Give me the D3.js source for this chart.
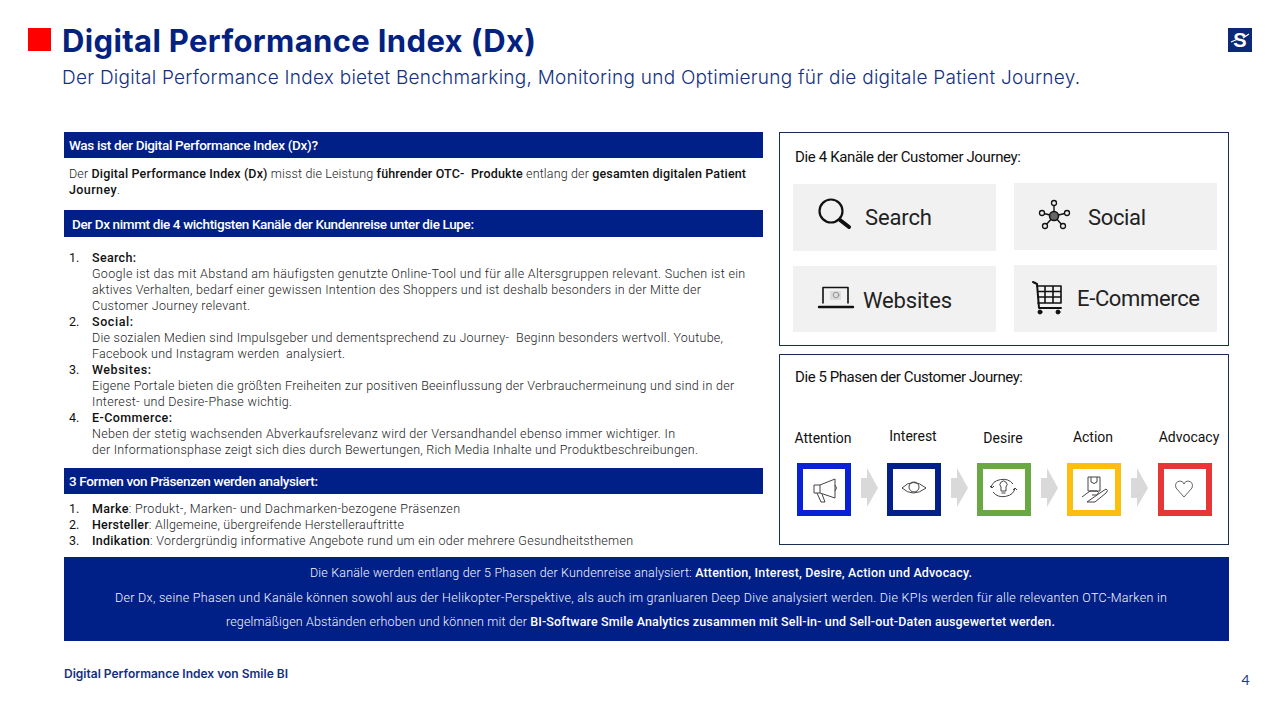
<!DOCTYPE html>
<html lang="de"><head><meta charset="utf-8"><title>Digital Performance Index (Dx)</title>
<script src="https://cdn.jsdelivr.net/npm/d3@7/dist/d3.min.js"></script>
<style>html,body{margin:0;padding:0;background:#fff;overflow:hidden}svg{display:block}</style></head>
<body><svg id="s" width="1280" height="720" viewBox="0 0 1280 720"></svg>
<script>
// ---- content ----
const titleText = "Digital Performance Index (Dx)";
const subtitleText = "Der Digital Performance Index bietet Benchmarking, Monitoring und Optimierung für die digitale Patient Journey.";
const headerLabels = ["Was ist der Digital Performance Index (Dx)?","Der Dx nimmt die 4 wichtigsten Kanäle der Kundenreise unter die Lupe:","3 Formen von Präsenzen werden analysiert:"];
const introLines = ["Der **Digital Performance Index (Dx)** misst die Leistung **führender OTC-  Produkte** entlang der **gesamten digitalen Patient**","**Journey**."];
const channelBody = ["**Search:**",
"Google ist das mit Abstand am häufigsten genutzte Online-Tool und für alle Altersgruppen relevant. Suchen ist ein",
"aktives Verhalten, bedarf einer gewissen Intention des Shoppers und ist deshalb besonders in der Mitte der",
"Customer Journey relevant.",
"**Social:**",
"Die sozialen Medien sind Impulsgeber und dementsprechend zu Journey-  Beginn besonders wertvoll. Youtube,",
"Facebook und Instagram werden  analysiert.",
"**Websites:**",
"Eigene Portale bieten die größten Freiheiten zur positiven Beeinflussung der Verbrauchermeinung und sind in der",
"Interest- und Desire-Phase wichtig.",
"**E-Commerce:**",
"Neben der stetig wachsenden Abverkaufsrelevanz wird der Versandhandel ebenso immer wichtiger. In",
"der Informationsphase zeigt sich dies durch Bewertungen, Rich Media Inhalte und Produktbeschreibungen."];
const channelNumbers = ["1.","","","","2.","","","3.","","","4.","",""];
const formLines = ["**Marke**: Produkt-, Marken- und Dachmarken-bezogene Präsenzen","**Hersteller**: Allgemeine, übergreifende Herstellerauftritte","**Indikation**: Vordergründig informative Angebote rund um ein oder mehrere Gesundheitsthemen"];
const formNumbers = ["1.","2.","3."];
const panelLines = ["Die Kanäle werden entlang der 5 Phasen der Kundenreise analysiert: **Attention, Interest, Desire, Action und Advocacy.**",
"Der Dx, seine Phasen und Kanäle können sowohl aus der Helikopter-Perspektive, als auch im granluaren Deep Dive analysiert werden. Die KPIs werden für alle relevanten OTC-Marken in",
"regelmäßigen Abständen erhoben und können mit der **BI-Software Smile Analytics zusammen mit Sell-in- und Sell-out-Daten ausgewertet werden.**"];
const footerText = "Digital Performance Index von Smile BI";
const pageNumber = "4";
const channelTitle = "Die 4 Kanäle der Customer Journey:";
const channels = ["Search","Social","Websites","E-Commerce"];
const phaseTitle = "Die 5 Phasen der Customer Journey:";
const phases = ["Attention","Interest","Desire","Action","Advocacy"];
const phaseColors = ["#0a22d6","#02208a","#6aa843","#fdbf0f","#e63636"];

// ---- layout (separate from content) ----
const NAVY="#001f87", INK="#2a2a2a";
const svg=d3.select("#s");
const g=svg.append("g");
function rect(x0,y0,x1,y1,fill,stroke){return g.append("rect").attr("x",x0).attr("y",y0).attr("width",x1-x0).attr("height",y1-y0).attr("fill",fill).attr("stroke",stroke||"none");}
// text with **bold** runs, fitted to a target extent via letter-spacing
function put(str,x0,x1,cy,o){o=o||{};
  const size=o.size||12.5,fam=o.fam||"Roboto",col=o.col||INK,w=o.w||300,bw=o.bw||500;
  const t=g.append("text").attr("x",x0).attr("y",cy+size*0.35+(size<14?0.6:0)).attr("font-family",fam).attr("font-size",size).attr("fill",col).attr("font-weight",w).attr("xml:space","preserve").style("white-space","pre");
  str.split("**").forEach((r,i)=>{if(r)t.append("tspan").attr("font-weight",i%2?bw:w).attr("fill",i%2&&o.bcol?o.bcol:(i%2?"#111":col)).text(r);});
  if(x1!=null){const len=t.node().getComputedTextLength(),n=str.replace(/\*\*/g,"").length;
    t.style("letter-spacing",((x1-x0-len)/Math.max(1,n-1)).toFixed(3)+"px");}
  return t;
}
// slide head
rect(28,28,51,51,"#fe0000");
put(titleText,62,536,41,{size:31,fam:"Inter",col:"#03227f",w:700,bw:700});
put(subtitleText,62,1080,77,{size:19,fam:"Inter",col:"#12307f",w:300});
// logo
rect(1228,28,1252,52,"#0a2a78");
g.append("text").attr("x",1240).attr("y",47).attr("text-anchor","middle").attr("font-family","Liberation Sans").attr("font-weight",700).attr("font-size",20).attr("fill","#fff").text("S");
g.append("path").attr("d","M1231 42 L1238 39 M1243 38 L1249 34").attr("stroke","#fff").attr("stroke-width",1.2).attr("fill","none");

// left column headers
const headerBoxes=[[132,158],[210,237],[468,494]];
const headerExtents=[[69,318],[72,474],[69,318]];
headerLabels.forEach((l,i)=>{rect(64,headerBoxes[i][0],763,headerBoxes[i][1],NAVY);
  put(l,headerExtents[i][0],headerExtents[i][1],(headerBoxes[i][0]+headerBoxes[i][1])/2,{col:"#fff",w:500,size:13.5});});
// intro
const introEnds=[746,120];
introLines.forEach((l,i)=>put(l,69,introEnds[i],173+16*i,{col:"#222"}));
// channel list
const channelEnds=[136,745,701,250,133,723,345,151,734,292,172,675,698];
channelBody.forEach((l,i)=>{const cy=257+16*i;
  if(channelNumbers[i])put(channelNumbers[i],69,null,cy,{w:400,col:"#111"});
  put(l,92,channelEnds[i],cy,{col:"#222"});});
// forms list
const formEnds=[460,404,633];
formLines.forEach((l,i)=>{const cy=508+16*i;put(formNumbers[i],69,null,cy,{w:400,col:"#111"});put(l,92,formEnds[i],cy,{col:"#222"});});
// bottom panel
rect(64,557,1229,641,NAVY);
const panelExt=[[310,972],[115,1167],[226,1055]],panelY=[572,597,621];
panelLines.forEach((l,i)=>put(l,panelExt[i][0],panelExt[i][1],panelY[i],{col:"#f4f6ff",bcol:"#fff",w:300,bw:500}));
// footer
put(footerText,64,288,673,{size:12,fam:"Inter",col:"#13307f",w:600,bw:600});
g.append("text").attr("x",1245.5).attr("y",685).attr("text-anchor","middle").attr("font-family","Lato").attr("font-size",14).attr("fill","#1b3a8c").text(pageNumber);

// right: channels box
rect(779.5,132.5,1228.5,345.5,"#fff","#1a2f55");
put(channelTitle,795,1021,157,{size:15,w:400,col:"#111"});
const tiles=[[793,184,996,251],[1014,183,1217,250],[793,266,996,332],[1014,265,1217,332]];
const tileText=[[865,932,217],[1088,1146,217],[863,952,300],[1077,1200,298]];
channels.forEach((c,i)=>{const b=tiles[i];rect(b[0],b[1],b[2],b[3],"#f1f1f1");
  put(c,tileText[i][0],tileText[i][1],tileText[i][2],{size:22,w:400,col:"#222"});});
// search icon
const ic=g.append("g").attr("fill","none").attr("stroke","#111").attr("stroke-linecap","round").attr("stroke-linejoin","round");
ic.append("circle").attr("cx",831).attr("cy",211).attr("r",11.5).attr("stroke-width",2.2);
ic.append("path").attr("d","M840 220 L849 227").attr("stroke-width",4);
// social icon
const hub=[1054,216],spokes=[[1054,203],[1042,213],[1067,213],[1045,226],[1063,226]];
ic.append("g").selectAll("line").data(spokes).join("line").attr("x1",hub[0]).attr("y1",hub[1]).attr("x2",d=>d[0]).attr("y2",d=>d[1]).attr("stroke-width",1.4);
ic.append("g").selectAll("circle").data(spokes).join("circle").attr("cx",d=>d[0]).attr("cy",d=>d[1]).attr("r",2.5).attr("fill","#f1f1f1").attr("stroke-width",1.3);
ic.append("circle").attr("cx",hub[0]).attr("cy",hub[1]).attr("r",4.5).attr("fill","#666").attr("stroke-width",1.5);
// laptop icon
ic.append("path").attr("d","M823 303 V287.5 H848 V303").attr("stroke-width",1.6);
ic.append("rect").attr("x",830).attr("y",291).attr("width",11).attr("height",9).attr("stroke","none").attr("fill","#ddd");
ic.append("circle").attr("cx",836).attr("cy",295).attr("r",2.8).attr("stroke-width",.7).attr("stroke","#777");
ic.append("path").attr("d","M819 307 H853").attr("stroke-width",2.4);
// cart icon
ic.append("path").attr("d","M1033 282 L1037 284 L1039 308 H1061").attr("stroke-width",2);
ic.append("path").attr("d","M1037 286 H1061 V303 H1038 M1038 291.5 H1061 M1038 297 H1061 M1045 286 V303 M1053 286 V303").attr("stroke-width",1.6);
ic.append("g").selectAll("circle").data([1040,1058]).join("circle").attr("cx",d=>d).attr("cy",312).attr("r",2).attr("fill","#111");

// right: phases box
rect(779.5,354.5,1228.5,544.5,"#fff","#1a2f55");
put(phaseTitle,795,1023,377,{size:15,w:400,col:"#111"});
const phaseX=d3.scalePoint().domain(phases).range([824,1184]);  // box centres
const labelX=[823,913,1003,1093,1189],labelY=[438,436,438,437,437];
phases.forEach((p,i)=>{
  g.append("text").attr("x",labelX[i]).attr("y",labelY[i]+5).attr("text-anchor","middle").attr("font-family","Roboto").attr("font-size",14).attr("fill","#111").text(p);
  const cx=phaseX(p)+(i==4?1:0);
  g.append("rect").attr("x",cx-24).attr("y",466).attr("width",48).attr("height",47).attr("fill","#fff").attr("stroke",phaseColors[i]).attr("stroke-width",6);
  if(i<4){const a=cx+37;g.append("path").attr("d",`M${a} 478 H${a+6} V468 L${a+17} 488 L${a+6} 507 V498 H${a} Z`).attr("fill","#d9d9d9");}
});
// phase icons
const pi=g.append("g").attr("fill","none").attr("stroke","#444").attr("stroke-width",1).attr("stroke-linejoin","round");
pi.append("path").attr("d","M814 485 H820 L835 479 V498 L820 493 H814 Z M820 485 V493 M817 493 L821 502 H825 L822 494 M835 485 Q838 488 835 491");
pi.append("path").attr("d","M902 488 Q913 477 926 488 Q913 498 902 488 Z");
pi.append("circle").attr("cx",914).attr("cy",487).attr("r",5);
pi.append("path").attr("d","M1001 487 a3.5 3.5 0 1 1 5 0 V491 H1001 Z M1001.5 493 H1005.5 M991 488 a12 10 0 0 1 22 -4 M1015 488 a12 10 0 0 1 -22 4 M990 486 l2 2 l2 -2 M1013 490 l2 -2 l2 2");
pi.append("path").attr("d","M1088 477 H1100 V491 H1088 Z M1091 477 V482 Q1094 485 1097 482 V477 M1082 497 L1090 491 H1097 Q1100 492 1097 495 H1092 M1097 495 L1106 489 Q1109 490 1106 493 L1095 502 H1087 Z");
pi.append("path").attr("d","M1184 497 L1176 488 Q1174 482 1180 481 Q1183 481 1184 484 Q1185 481 1188 481 Q1194 482 1192 488 Z").attr("stroke","#666");
</script></body></html>
